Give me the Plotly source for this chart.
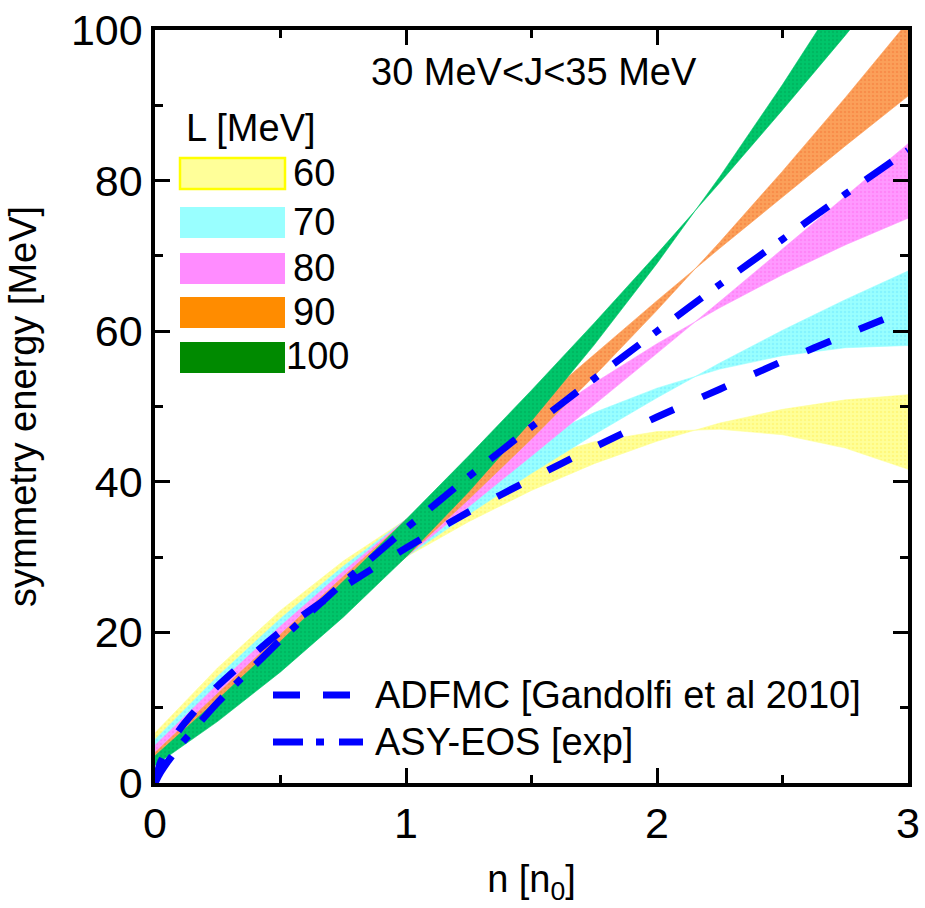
import plotly.graph_objects as go

# ---------------- data ----------------
n_grid = [0, 0.25, 0.5, 0.75, 1.0, 1.25, 1.5, 1.75, 2.0, 2.25, 2.5, 2.75, 3.0]

# band edges: symmetry energy for J = 30 MeV and J = 35 MeV at each L
L60_J30 = [5.39, 12.41, 18.85, 24.71, 30.0, 34.71, 38.85, 42.41, 45.39, 47.80, 49.62, 50.88, 51.56]
L60_J35 = [6.67, 15.31, 22.92, 29.48, 35.0, 39.48, 42.92, 45.31, 46.67, 46.98, 46.25, 44.48, 41.67]
L70_J30 = [4.50, 11.28, 17.79, 24.03, 30.0, 35.69, 41.13, 46.28, 51.16, 55.78, 60.12, 64.19, 68.00]
L70_J35 = [5.78, 14.19, 21.86, 28.80, 35.0, 40.46, 45.20, 49.19, 52.44, 54.97, 56.75, 57.80, 58.11]
L80_J30 = [3.72, 10.22, 16.77, 23.35, 30.0, 36.69, 43.43, 50.22, 57.06, 63.94, 70.88, 77.86, 84.89]
L80_J35 = [5.00, 13.12, 20.84, 28.12, 35.0, 41.46, 47.50, 53.12, 58.34, 63.12, 67.50, 71.46, 75.00]
L90_J30 = [2.78, 9.06, 15.69, 22.67, 30.0, 37.67, 45.69, 54.06, 62.78, 71.84, 81.25, 91.01, 101.11]
L90_J35 = [4.06, 11.97, 19.76, 27.44, 35.0, 42.44, 49.76, 56.97, 64.06, 71.02, 77.87, 84.61, 91.22]
L100_J30 = [2.34, 8.19, 14.75, 22.02, 30.0, 38.68, 48.09, 58.19, 69.00, 80.52, 92.75, 105.68, 119.34]
L100_J35 = [3.61, 11.09, 18.82, 26.79, 35.0, 43.45, 52.16, 61.09, 70.27, 79.71, 89.38, 99.28, 109.45]

L_labels = ["60", "70", "80", "90", "100"]

n_line = [0, 0.02, 0.05, 0.1, 0.25, 0.5, 0.75, 1.0, 1.25, 1.5, 1.75, 2.0, 2.25, 2.5, 2.75, 3.0]
adfmc = [0, 2.6, 4.6, 7.2, 12.9, 20.1, 26.0, 31.2, 36.0, 40.4, 44.6, 48.6, 52.3, 56.0, 59.5, 62.9]
asy_eos = [0, 1.3, 2.8, 5.0, 10.7, 19.0, 26.6, 33.8, 40.7, 47.3, 53.7, 60.0, 66.2, 72.2, 78.2, 84.0]

x_ticks = [0, 1, 2, 3]
y_ticks = [0, 20, 40, 60, 80, 100]

# ---------------- styling ----------------
FONT = "Liberation Sans, Arial, sans-serif"
band_fill = ["#FFFF99", "#99FFFF", "#FF99FF", "#FBA05A", "#00C66A"]
band_dot = ["#FFF060", "#70E8FF", "#FF70F0", "#F47A3A", "#00A858"]
legend_fill = ["#FFFF99", "#99FFFF", "#FF8CFF", "#FF8C00", "#008A00"]
BLUE = "#0000FF"

W, H = 925, 908
ML, MR, MT, MB = 155, 17, 30, 125
PW, PH = W - ML - MR, H - MT - MB


def px(xp):
    return (xp - ML) / PW


def py(yp):
    return (H - MB - yp) / PH


fig = go.Figure()

bands = [(L60_J30, L60_J35), (L70_J30, L70_J35), (L80_J30, L80_J35),
         (L90_J30, L90_J35), (L100_J30, L100_J35)]
for i, (lo, hi) in enumerate(bands):
    fig.add_trace(go.Scatter(
        x=n_grid + n_grid[::-1],
        y=lo + hi[::-1],
        mode="lines",
        fill="toself",
        fillcolor=band_fill[i],
        fillpattern=dict(shape=".", bgcolor=band_fill[i], fgcolor=band_dot[i],
                         size=4, solidity=0.3),
        line=dict(width=0.6, color=band_fill[i]),
        name="L=" + L_labels[i],
        showlegend=False,
        hoverinfo="skip",
    ))

fig.add_trace(go.Scatter(x=n_line, y=adfmc, mode="lines",
                         line=dict(color=BLUE, width=7, dash="26px,31px", shape="spline", smoothing=0.6),
                         name="ADFMC [Gandolfi et al 2010]", showlegend=False))
fig.add_trace(go.Scatter(x=n_line, y=asy_eos, mode="lines",
                         line=dict(color=BLUE, width=7, dash="32px,18px,8px,20px", shape="spline", smoothing=0.6),
                         name="ASY-EOS [exp]", showlegend=False))

shapes = []
annotations = []

# band legend boxes
box_top = [158, 207, 253, 297, 342]
box_h = 31
for i, t in enumerate(box_top):
    shapes.append(dict(type="rect", xref="paper", yref="paper",
                       x0=px(180), x1=px(285), y0=py(t + box_h), y1=py(t),
                       fillcolor=legend_fill[i],
                       line=dict(width=2.5 if i == 0 else 0, color="#FFFF00"),
                       layer="above"))
    annotations.append(dict(xref="paper", yref="paper",
                            x=px(284 if L_labels[i] == "100" else 291), y=py(t + box_h / 2 - 1),
                            xanchor="left", yanchor="middle", showarrow=False,
                            text=L_labels[i], font=dict(family=FONT, size=38, color="black")))

annotations.append(dict(xref="paper", yref="paper", x=px(184), y=py(128),
                        xanchor="left", yanchor="middle", showarrow=False,
                        text="L [MeV]", font=dict(family=FONT, size=38, color="black")))
annotations.append(dict(xref="paper", yref="paper", x=px(369), y=py(72),
                        xanchor="left", yanchor="middle", showarrow=False,
                        text="30 MeV&lt;J&lt;35 MeV", font=dict(family=FONT, size=38, color="black")))

# line legend (bottom)
for (a, b) in [(273, 300), (323, 350)]:
    shapes.append(dict(type="line", xref="paper", yref="paper",
                       x0=px(a), x1=px(b), y0=py(695), y1=py(695),
                       line=dict(color=BLUE, width=7), layer="above"))
for (a, b) in [(273, 303), (316, 324), (339, 363)]:
    shapes.append(dict(type="line", xref="paper", yref="paper",
                       x0=px(a), x1=px(b), y0=py(742), y1=py(742),
                       line=dict(color=BLUE, width=7), layer="above"))
annotations.append(dict(xref="paper", yref="paper", x=px(373), y=py(695),
                        xanchor="left", yanchor="middle", showarrow=False,
                        text="ADFMC [Gandolfi et al 2010]", font=dict(family=FONT, size=38, color="black")))
annotations.append(dict(xref="paper", yref="paper", x=px(373), y=py(742),
                        xanchor="left", yanchor="middle", showarrow=False,
                        text="ASY-EOS [exp]", font=dict(family=FONT, size=38, color="black")))

axis_common = dict(
    showgrid=False, zeroline=False, showline=True, linewidth=3.5, linecolor="black",
    mirror="ticks", ticks="inside", ticklen=15, tickwidth=3, tickcolor="black",
    tickfont=dict(family=FONT, size=43, color="black"), automargin=False,
)

fig.update_layout(
    width=W, height=H,
    margin=dict(l=ML, r=MR, t=MT, b=MB),
    paper_bgcolor="white", plot_bgcolor="white",
    shapes=shapes, annotations=annotations,
    xaxis=dict(range=[0, 3], tickvals=x_ticks, ticktext=[str(v) for v in x_ticks],
               minor=dict(dtick=0.5, ticklen=8, tickwidth=3, tickcolor="black", ticks="inside"),
               title=dict(text="n [n<sub>0</sub>]", font=dict(family=FONT, size=38, color="black"), standoff=20),
               **axis_common),
    yaxis=dict(range=[0, 100], tickvals=y_ticks, ticktext=[str(v) for v in y_ticks],
               minor=dict(dtick=10, ticklen=8, tickwidth=3, tickcolor="black", ticks="inside"),
               title=dict(text="symmetry energy [MeV]", font=dict(family=FONT, size=38, color="black"), standoff=24),
               **axis_common),
    showlegend=False,
)

fig.write_html("out.html")
